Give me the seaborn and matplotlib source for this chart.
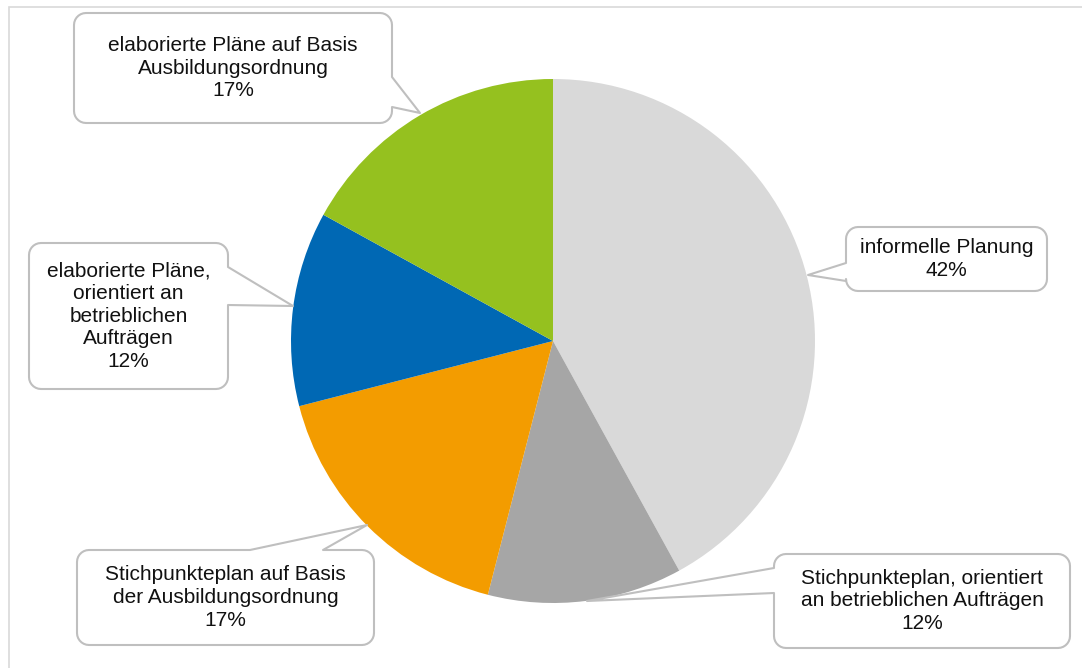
import numpy as np
import matplotlib
matplotlib.use("Agg")
import matplotlib.pyplot as plt
import seaborn as sns
from matplotlib.patches import Polygon

# ---- data ----
categories = [
    "informelle Planung",
    "Stichpunkteplan, orientiert\nan betrieblichen Aufträgen",
    "Stichpunkteplan auf Basis\nder Ausbildungsordnung",
    "elaborierte Pläne,\norientiert an\nbetrieblichen\nAufträgen",
    "elaborierte Pläne auf Basis\nAusbildungsordnung",
]
values = [42, 12, 17, 12, 17]
slice_colors = ["#D9D9D9", "#A6A6A6", "#F39C00", "#0068B4", "#95C11F"]

sns.set_theme(style="white")
plt.rcParams["font.family"] = ["Liberation Sans", "DejaVu Sans"]

W, H = 1082, 668
fig = plt.figure(figsize=(W / 100, H / 100), dpi=100)
ax = fig.add_axes([0, 0, 1, 1])

palette = sns.color_palette(slice_colors)
ax.pie(values, colors=palette, startangle=90, counterclock=False,
       center=(553, H - 341), radius=262, wedgeprops=dict(linewidth=0))

ax.set_xlim(0, W)
ax.set_ylim(0, H)
ax.set_aspect("equal")
ax.axis("off")

# outer frame (only left & top visible in reference)
ax.plot([9, 9, W + 5], [-5, H - 7, H - 7], color="#D9D9D9", lw=1.2,
        solid_joinstyle="miter")


def arc(cx, cy, r, a0, a1, n=8):
    t = np.linspace(np.radians(a0), np.radians(a1), n)
    return [(cx + r * np.cos(t_), cy + r * np.sin(t_)) for t_ in t]


def callout(x0, y0, x1, y1, side, b0, b1, tip, r=12):
    # pixel coords, y downward
    pts = []
    pts += arc(x0 + r, y0 + r, r, 180, 270)
    if side == "top":
        pts += [(b0, y0), tip, (b1, y0)]
    pts += arc(x1 - r, y0 + r, r, 270, 360)
    if side == "right":
        pts += [(x1, b0), tip, (x1, b1)]
    pts += arc(x1 - r, y1 - r, r, 0, 90)
    if side == "bottom":
        pts += [(b1, y1), tip, (b0, y1)]
    pts += arc(x0 + r, y1 - r, r, 90, 180)
    if side == "left":
        pts += [(x0, b1), tip, (x0, b0)]
    pts = [(x, H - y) for x, y in pts]
    ax.add_patch(Polygon(pts, closed=True, facecolor="white",
                         edgecolor="#BFBFBF", lw=1.5, joinstyle="round",
                         zorder=5))


boxes = [
    # x0, y0, x1, y1, side, b0, b1, tip
    (846, 227, 1047, 291, "left", 263, 281, (808, 275)),
    (774, 554, 1070, 648, "left", 568, 593, (587, 601)),
    (77, 550, 374, 645, "top", 250, 323, (367, 525)),
    (29, 243, 228, 389, "right", 267, 305, (293, 306)),
    (74, 13, 392, 123, "right", 77, 107, (420, 113)),
]

for cat, val, b in zip(categories, values, boxes):
    x0, y0, x1, y1, side, b0, b1, tip = b
    callout(x0, y0, x1, y1, side, b0, b1, tip)
    ax.text((x0 + x1) / 2, H - (y0 + y1) / 2, f"{cat}\n{val}%",
            ha="center", va="center", fontsize=15, color="#111111",
            linespacing=1.24, zorder=6)

fig.savefig("out.png", dpi=100)
